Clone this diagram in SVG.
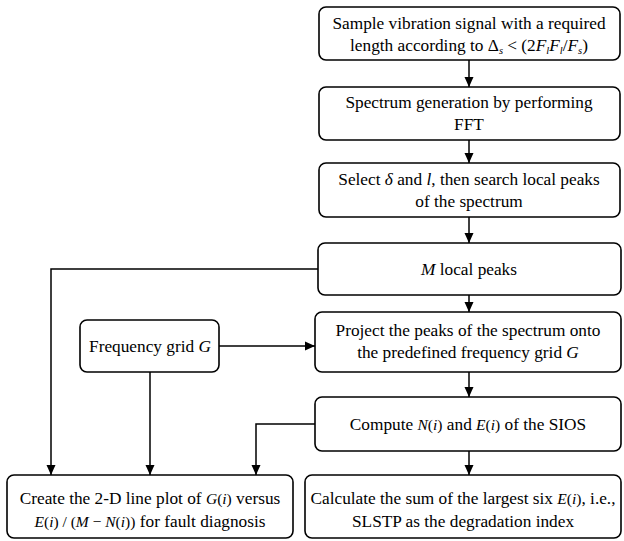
<svg xmlns="http://www.w3.org/2000/svg" width="624" height="541" viewBox="0 0 624 541">
<style>
.box{fill:#fff;stroke:#000;stroke-width:1.6}
text{font-family:'Liberation Serif','Times New Roman',serif;font-size:17.3px;fill:#000;text-anchor:middle}
.m{font-style:italic}
.q{font-size:15.5px}
.s{font-size:10.5px}
.ln{fill:none;stroke:#000;stroke-width:1.5}
</style>
<defs>
<marker id="ah" viewBox="0 0 10 10" refX="10" refY="5" markerWidth="10" markerHeight="10" markerUnits="userSpaceOnUse" orient="auto">
<path d="M0,0.5 L10,5 L0,9.5 Z" fill="#000"/>
</marker>
</defs>
<rect width="624" height="541" fill="#fff"/>
<g id="connectors">
<path class="ln" d="M469,60 V87" marker-end="url(#ah)"/>
<path class="ln" d="M469,140 V163" marker-end="url(#ah)"/>
<path class="ln" d="M469,217 V243" marker-end="url(#ah)"/>
<path class="ln" d="M469,295 V312" marker-end="url(#ah)"/>
<path class="ln" d="M318,269 H51 V475" marker-end="url(#ah)"/>
<path class="ln" d="M219,346 H315" marker-end="url(#ah)"/>
<path class="ln" d="M150,372 V475" marker-end="url(#ah)"/>
<path class="ln" d="M469,372 V397" marker-end="url(#ah)"/>
<path class="ln" d="M315,424 H256 V475" marker-end="url(#ah)"/>
<path class="ln" d="M469,451 V475" marker-end="url(#ah)"/>
</g>
<g id="n1">
<rect class="box" x="319" y="7" width="301" height="53" rx="7"/>
<text x="469" y="29">Sample vibration signal with a required</text>
<text x="469" y="51">length according to Δ<tspan class="s m" dy="3">s</tspan><tspan dy="-3"> &lt; (2</tspan><tspan class="m">F</tspan><tspan class="s m" dy="3">l</tspan><tspan class="m" dy="-3">F</tspan><tspan class="s m" dy="3">l</tspan><tspan dy="-3">/</tspan><tspan class="m">F</tspan><tspan class="s m" dy="3">s</tspan><tspan dy="-3">)</tspan></text>
</g>
<g id="n2">
<rect class="box" x="319" y="87" width="301" height="53" rx="7"/>
<text x="469" y="108">Spectrum generation by performing</text>
<text x="469" y="130">FFT</text>
</g>
<g id="n3">
<rect class="box" x="319" y="163" width="301" height="54" rx="7"/>
<text x="469" y="185">Select <tspan class="m">δ</tspan> and <tspan class="m">l</tspan>, then search local peaks</text>
<text x="469" y="207">of the spectrum</text>
</g>
<g id="n4">
<rect class="box" x="318" y="243" width="303" height="52" rx="7"/>
<text x="469" y="275"><tspan class="m">M</tspan> local peaks</text>
</g>
<g id="n5">
<rect class="box" x="80" y="320" width="139" height="52" rx="7"/>
<text x="150" y="352">Frequency grid <tspan class="m">G</tspan></text>
</g>
<g id="n6">
<rect class="box" x="315" y="312" width="306" height="60" rx="7"/>
<text x="468" y="336">Project the peaks of the spectrum onto</text>
<text x="468" y="358">the predefined frequency grid <tspan class="m">G</tspan></text>
</g>
<g id="n7">
<rect class="box" x="315" y="397" width="306" height="54" rx="7"/>
<text x="468" y="430">Compute <tspan class="q"><tspan class="m">N</tspan>(<tspan class="m">i</tspan>)</tspan> and <tspan class="q"><tspan class="m">E</tspan>(<tspan class="m">i</tspan>)</tspan> of the SIOS</text>
</g>
<g id="n8">
<rect class="box" x="7" y="475" width="286" height="63" rx="7"/>
<text x="150" y="504">Create the 2-D line plot of <tspan class="q"><tspan class="m">G</tspan>(<tspan class="m">i</tspan>)</tspan> versus</text>
<text x="150" y="527"><tspan class="q"><tspan class="m">E</tspan>(<tspan class="m">i</tspan>) / (<tspan class="m">M</tspan> − <tspan class="m">N</tspan>(<tspan class="m">i</tspan>))</tspan> for fault diagnosis</text>
</g>
<g id="n9">
<rect class="box" x="305" y="475" width="316" height="63" rx="7"/>
<text x="463" y="504">Calculate the sum of the largest six <tspan class="q"><tspan class="m">E</tspan>(<tspan class="m">i</tspan>)</tspan>, i.e.,</text>
<text x="463" y="527">SLSTP as the degradation index</text>
</g>
</svg>
